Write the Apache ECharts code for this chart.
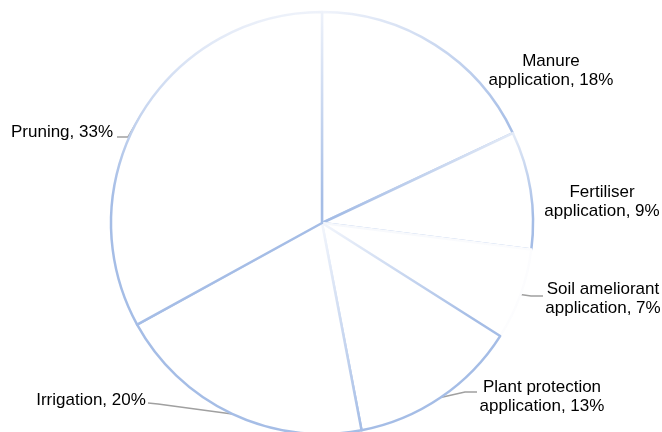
<!DOCTYPE html>
<html>
<head>
<meta charset="utf-8">
<script src="https://cdn.jsdelivr.net/npm/echarts@6/dist/echarts.min.js"></script>
<style>
  html, body { margin: 0; padding: 0; background: #ffffff; }
  #chart { width: 662px; height: 432px; }
</style>
</head>
<body>
<div id="chart"></div>
<script>
// Share of activities (percent), clockwise from 12 o'clock
const categories = [
  'Manure\napplication',
  'Fertiliser\napplication',
  'Soil ameliorant\napplication',
  'Plant protection\napplication',
  'Irrigation',
  'Pruning'
];
const shares = [18, 9, 7, 13, 20, 33];

// Label placement (text centre) and the bend/end of each leader line
const labelSpots = [
  { x: 551, y: 71,  line: null },
  { x: 602, y: 202, line: null },
  { x: 603, y: 299, line: [[531, 296], [543, 296]] },
  { x: 542, y: 397, line: [[465, 392], [477, 392]] },
  { x: 91,  y: 400, line: [[158, 404], [148, 403]] },
  { x: 62,  y: 132, line: [[128, 137], [117, 137]] }
];

const BLUE = '#a5bde6';
const PALE = '#f1f4fb';

// Outline gradients for each slice (fills are white)
function lin(x, y, x2, y2, stops) {
  return new echarts.graphic.LinearGradient(x, y, x2, y2, stops);
}
function rad(x, y, r, stops) {
  return new echarts.graphic.RadialGradient(x, y, r, stops);
}
const outlines = [
  lin(0, 0, 1, 0.6, [{ offset: 0, color: PALE }, { offset: 1, color: BLUE }]),
  lin(0, 0, 0, 1, [{ offset: 0, color: '#e4ebf7' }, { offset: 0.7, color: BLUE }, { offset: 1, color: BLUE }]),
  lin(0, 0, 1, 1, [{ offset: 0, color: '#f6f8fc' }, { offset: 1, color: '#fdfdfe' }]),
  rad(0, 0, 1, [{ offset: 0, color: '#f3f6fc' }, { offset: 1, color: BLUE }]),
  rad(0.826, 0, 1, [{ offset: 0, color: '#f3f6fc' }, { offset: 1, color: BLUE }]),
  lin(0, 0, 0, 1, [{ offset: 0, color: '#eef2fa' }, { offset: 0.6, color: BLUE }, { offset: 1, color: BLUE }])
];

const seriesData = categories.map((name, i) => ({
  name: name,
  value: shares[i],
  itemStyle: { color: '#ffffff', borderColor: outlines[i], borderWidth: 2.5 },
  labelLine: { show: !!labelSpots[i].line }
}));

const chart = echarts.init(document.getElementById('chart'), null, { renderer: 'canvas' });
chart.setOption({
  animation: false,
  backgroundColor: '#ffffff',
  series: [{
    type: 'pie',
    center: [322, 223],
    radius: 211,
    startAngle: 90,
    clockwise: true,
    avoidLabelOverlap: false,
    silent: true,
    data: seriesData,
    label: {
      show: true,
      position: 'outside',
      formatter: '{b}, {c}%',
      color: '#000000',
      fontFamily: 'Liberation Sans, Arial, sans-serif',
      fontSize: 17,
      lineHeight: 19,
      align: 'center'
    },
    labelLine: {
      show: true,
      length: 10,
      length2: 10,
      smooth: false,
      lineStyle: { color: '#a0a0a0', width: 1.5 }
    },
    labelLayout: function (params) {
      const spot = labelSpots[params.dataIndex];
      const out = { x: spot.x, y: spot.y, align: 'center', verticalAlign: 'middle' };
      if (spot.line && params.labelLinePoints) {
        out.labelLinePoints = [params.labelLinePoints[0], spot.line[0], spot.line[1]];
      }
      return out;
    }
  }]
});
</script>
</body>
</html>
